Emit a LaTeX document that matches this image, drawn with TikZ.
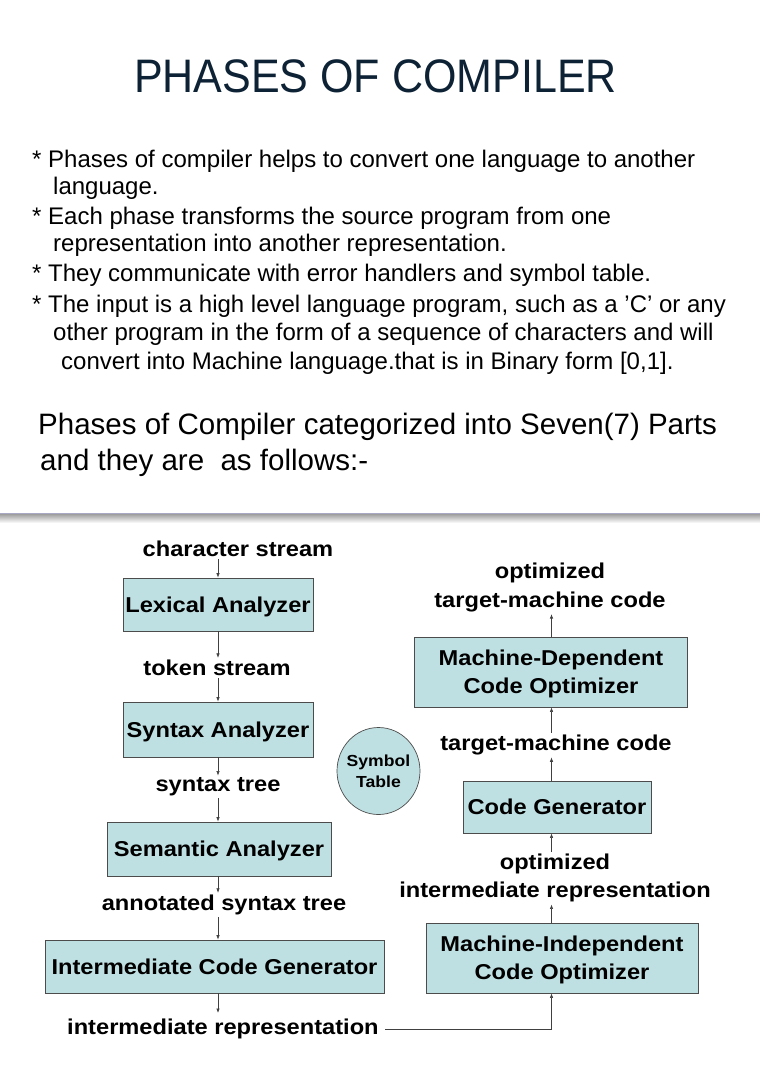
\documentclass[tikz,border=0pt]{standalone}
\usepackage{fontspec}
\setmainfont{Liberation Sans}
\newfontfamily\diagfont[FakeStretch=1.1]{Liberation Sans}
\newfontfamily\titlefont[FakeStretch=0.915]{Liberation Sans}
\usetikzlibrary{arrows.meta,shapes.geometric}
\definecolor{boxfill}{HTML}{BFE0E2}
\definecolor{titlecol}{HTML}{0D2235}
\definecolor{sepline}{HTML}{A8A8C4}
\begin{document}
\begin{tikzpicture}[x=1pt,y=-1pt,
  bodytext/.style={anchor=base west, inner sep=0pt, font=\fontsize{24}{29}\selectfont},
  phase/.style={draw=black!70, line width=0.7pt, fill=boxfill, align=center, inner sep=0pt, text depth=0pt,
    font=\diagfont\bfseries\fontsize{21.5}{28}\selectfont},
  lbl/.style={align=center, inner sep=2pt, font=\diagfont\bfseries\fontsize{21.5}{28.5}\selectfont},
  arr/.style={draw=black!75, line width=0.6pt, -{Latex[length=4.5pt,width=3.4pt]}}]
\useasboundingbox[fill=white] (0,0) rectangle (760,1068);

% title
\node[titlecol, font=\titlefont\fontsize{47}{56}\selectfont, inner sep=0pt] (title) at (375.5,76) {PHASES OF COMPILER};

% bullet text
\node[bodytext] (b1) at (32,167) {* Phases of compiler helps to convert one language to another};
\node[bodytext] (b1b) at (53,194) {language.};
\node[bodytext] (b2) at (32,224) {* Each phase transforms the source program from one};
\node[bodytext] (b2b) at (53,251) {representation into another representation.};
\node[bodytext] (b3) at (32,281) {* They communicate with error handlers and symbol table.};
\node[bodytext] (b4) at (32,312) {* The input is a high level language program, such as a ’C’ or any};
\node[bodytext] (b4b) at (53,340) {other program in the form of a sequence of characters and will};
\node[bodytext] (b4c) at (61,369) {convert into Machine language.that is in Binary form [0,1].};

\node[anchor=base west, inner sep=0pt, font=\fontsize{29.5}{36}\selectfont] (cat1) at (38,434) {Phases of Compiler categorized into Seven(7) Parts};
\node[anchor=base west, inner sep=0pt, font=\fontsize{29.5}{36}\selectfont] (cat2) at (40,470) {and they are\ \ as follows:-};

% separator
\shade[top color=black!38, bottom color=white] (0,514) rectangle (760,523);
\draw[sepline, line width=1.2pt] (0,513.5) -- (760,513.5);

% left column
\node[lbl] (cs) at (238,549) {character stream};
\node[phase, minimum width=190, minimum height=53] (lex) at (218,604.5) {Lexical Analyzer};
\node[lbl] (ts) at (217,668) {token stream};
\node[phase, minimum width=190, minimum height=55] (syn) at (218,729.5) {Syntax Analyzer};
\node[lbl] (st) at (218,787) {syntax tree};
\node[phase, minimum width=224, minimum height=54] (sem) at (219,849) {Semantic Analyzer};
\node[lbl] (ast) at (224,905) {annotated syntax tree};
\node[phase, minimum width=339, minimum height=53] (icg) at (214.5,966.5) {Intermediate Code Generator};
\node[lbl, anchor=west, inner sep=0pt] (ir) at (67,1029) {intermediate representation};
\coordinate (irtop) at (218,1013);

\draw[arr] (lex.north |- cs.south) -- (lex.north);
\draw[arr] (lex.south) -- (lex.south |- ts.north);
\draw[arr] (syn.north |- ts.south) -- (syn.north);
\draw[arr] (syn.south) -- (syn.south |- st.north);
\draw[arr] (lex.north |- st.south) -- (lex.north |- sem.north);
\draw[arr] (lex.south |- sem.south) -- (lex.south |- ast.north);
\draw[arr] (lex.north |- ast.south) -- (lex.north |- icg.north);
\draw[arr] (lex.south |- icg.south) -- (irtop);

% symbol table
\node[ellipse, draw=black!70, line width=0.7pt, fill=boxfill, minimum width=83, minimum height=87, inner sep=-9pt, align=center,
  font=\diagfont\bfseries\fontsize{16}{21}\selectfont] (sym) at (378.5,771) {Symbol\\Table};

% right column
\coordinate (rx) at (551.5,0);
\coordinate (irstart) at (385,1029);
\node[lbl] (omc) at (550,587.5) {optimized\\target-machine code};
\node[phase, minimum width=273, minimum height=70] (md) at (551,672) {Machine-Dependent\\Code Optimizer};
\node[lbl] (tmc) at (556,745) {target-machine code};
\node[phase, minimum width=188, minimum height=52] (cg) at (557,807) {Code Generator};
\node[lbl] (oir) at (555,878) {optimized\\intermediate representation};
\node[phase, minimum width=272, minimum height=70] (mi) at (562,958) {Machine-Independent\\Code Optimizer};

\draw[arr] (irstart) -- (irstart -| rx) -- (mi.south -| rx);
\draw[arr] (mi.north -| rx) -- (oir.south -| rx);
\draw[arr] (oir.north -| rx) -- (cg.south -| rx);
\draw[arr] (cg.north -| rx) -- (tmc.south -| rx);
\draw[arr] (tmc.north -| rx) -- (md.south -| rx);
\draw[arr] (md.north -| rx) -- (omc.south -| rx);
\end{tikzpicture}
\end{document}
